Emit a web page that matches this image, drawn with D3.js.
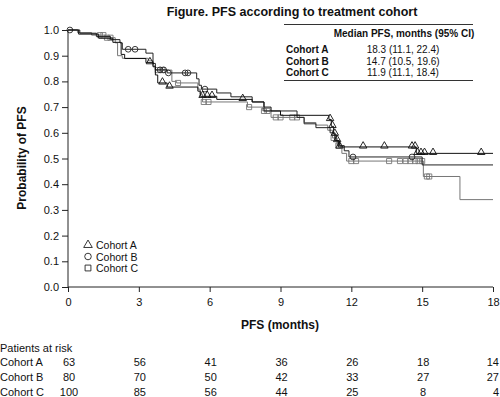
<!DOCTYPE html>
<html>
<head>
<meta charset="utf-8">
<script src="https://cdn.jsdelivr.net/npm/d3@7"></script>
<style>
  body { margin: 0; background: #fff; }
  text { font-family: "Liberation Sans", Arial, sans-serif; fill: #111; }
</style>
</head>
<body>
<div id="viz"></div>
<script>
'use strict';

const cohorts = ['Cohort A', 'Cohort B', 'Cohort C'];
const medianPFS = ['18.3 (11.1, 22.4)', '14.7 (10.5, 19.6)', '11.9 (11.1, 18.4)'];

// step points [month, survival]
const stepsA = [
  [0, 1], [0.45, 0.984], [1.3, 0.968], [1.9, 0.952], [2.25, 0.905], [2.4, 0.889],
  [3.3, 0.873], [3.6, 0.857], [3.7, 0.825], [3.8, 0.794], [4.2, 0.778],
  [5.5, 0.762], [5.6, 0.742], [6.3, 0.73], [7.8, 0.72], [8.3, 0.70],
  [8.6, 0.685], [9.0, 0.668], [11.05, 0.652], [11.15, 0.625], [11.25, 0.595],
  [11.35, 0.57], [11.45, 0.545], [14.75, 0.52]
];
const stepsB = [
  [0, 1], [0.5, 0.9875], [1.2, 0.975], [1.8, 0.9625], [2.2, 0.95], [2.3, 0.925],
  [3.3, 0.91], [3.6, 0.87], [3.7, 0.845], [4.2, 0.833], [5.45, 0.81],
  [5.55, 0.785], [5.65, 0.77], [6.3, 0.755], [6.9, 0.74], [7.8, 0.72],
  [8.3, 0.685], [9.7, 0.66], [10.0, 0.635], [10.5, 0.62], [11.1, 0.6],
  [11.3, 0.57], [11.5, 0.55], [11.7, 0.53], [11.9, 0.506], [15.0, 0.475]
];
const stepsC = [
  [0, 1], [0.4, 0.99], [1.0, 0.98], [1.6, 0.97], [2.0, 0.95], [2.1, 0.9],
  [2.3, 0.89], [3.4, 0.88], [3.6, 0.86], [3.7, 0.844], [4.4, 0.80],
  [4.6, 0.794], [5.5, 0.77], [5.6, 0.75], [5.7, 0.72], [7.6, 0.70],
  [8.25, 0.685], [8.6, 0.66], [10.0, 0.64], [10.5, 0.63], [11.0, 0.61],
  [11.2, 0.58], [11.4, 0.55], [11.6, 0.52], [11.8, 0.49], [15.05, 0.43],
  [16.6, 0.34]
];

// censoring marks (months)
const censorA = [3.47, 4.0, 4.3, 5.7, 5.9, 6.1, 7.4, 11.1, 11.2, 11.3, 11.4,
  11.5, 12.5, 13.4, 14.57, 14.7, 14.8, 14.95, 15.1, 15.46, 17.5];
const censorB = [0.08, 2.55, 2.84, 3.9, 4.05, 4.25, 4.96, 5.08, 5.8, 12.07, 14.57];
const censorC = [1.35, 1.5, 1.65, 1.8, 3.8, 4.0, 4.66, 5.75, 5.95, 7.67, 8.3,
  8.45, 8.8, 9.0, 9.5, 9.7, 11.25, 11.45, 12.0, 12.2, 13.6, 14.06, 14.3, 14.5,
  14.7, 14.85, 15.0, 15.2, 15.3];

const xTicks = [0, 3, 6, 9, 12, 15, 18];
const yTicks = [0, 0.1, 0.2, 0.3, 0.4, 0.5, 0.6, 0.7, 0.8, 0.9, 1.0];

const riskA = [63, 56, 41, 36, 26, 18, 14];
const riskB = [80, 70, 50, 42, 33, 27, 27];
const riskC = [100, 85, 56, 44, 25, 8, 4];

const series = [
  {name: cohorts[0], steps: stepsA, censor: censorA, risk: riskA, color: '#111', symbol: d3.symbolTriangle, size: 24},
  {name: cohorts[1], steps: stepsB, censor: censorB, risk: riskB, color: '#222', symbol: d3.symbolCircle, size: 26},
  {name: cohorts[2], steps: stepsC, censor: censorC, risk: riskC, color: '#777', symbol: d3.symbolSquare, size: 26}
];

const W = 500, H = 397;
const svg = d3.select('#viz').append('svg')
  .attr('width', W).attr('height', H);

const x = d3.scaleLinear().domain([0, 18]).range([68, 493]);
const y = d3.scaleLinear().domain([0, 1]).range([287, 30]);

// title
svg.append('text')
  .attr('x', 292).attr('y', 16)
  .attr('text-anchor', 'middle')
  .style('font-size', '12.5px').style('font-weight', 'bold')
  .text('Figure. PFS according to treatment cohort');

// axes
const yAxis = svg.append('g')
  .attr('transform', 'translate(68,0)')
  .call(d3.axisLeft(y).tickValues(yTicks).tickFormat(d3.format('.1f')).tickSize(6).tickPadding(3));
const xAxis = svg.append('g')
  .attr('transform', 'translate(0,287)')
  .call(d3.axisBottom(x).tickValues(xTicks).tickSize(5).tickPadding(6));
for (const g of [xAxis, yAxis]) {
  g.select('.domain').attr('stroke', '#222');
  g.selectAll('.tick line').attr('stroke', '#222');
  g.selectAll('.tick text').style('font-size', '11px').attr('fill', '#111');
}
xAxis.select('.domain').attr('d', 'M68,0H493');
yAxis.select('.domain').attr('d', 'M0,287V30');

svg.append('text')
  .attr('x', 280).attr('y', 329)
  .attr('text-anchor', 'middle')
  .style('font-size', '12px').style('font-weight', 'bold')
  .text('PFS (months)');

svg.append('text')
  .attr('transform', 'translate(26,158) rotate(-90)')
  .attr('text-anchor', 'middle')
  .style('font-size', '12px').style('font-weight', 'bold')
  .text('Probability of PFS');

// curves
function survAt(steps, t) {
  let s = steps[0][1];
  for (const [st, sv] of steps) {
    if (st <= t) s = sv;
  }
  return s;
}

const line = d3.line()
  .x(d => x(d[0]))
  .y(d => y(d[1]))
  .curve(d3.curveStepAfter);

for (const s of series.slice().reverse()) {
  const pts = s.steps.concat([[18, s.steps[s.steps.length - 1][1]]]);
  svg.append('path')
    .datum(pts)
    .attr('fill', 'none')
    .attr('stroke', s.color)
    .attr('stroke-width', 1)
    .attr('d', line);

  svg.append('g').selectAll('path')
    .data(s.censor)
    .join('path')
    .attr('transform', d => `translate(${x(d)},${y(survAt(s.steps, d)) - (s.symbol === d3.symbolTriangle ? 1 : 0)})`)
    .attr('d', d3.symbol(s.symbol, s.size))
    .attr('fill', 'none')
    .attr('stroke', s.color)
    .attr('stroke-width', 0.9);
}

// legend
const legend = svg.append('g');
series.forEach((s, i) => {
  const ly = 245 + i * 11.5;
  legend.append('path')
    .attr('transform', `translate(88,${ly})`)
    .attr('d', d3.symbol(s.symbol, s.size + 8))
    .attr('fill', 'none')
    .attr('stroke', '#222')
    .attr('stroke-width', 0.9);
  legend.append('text')
    .attr('x', 96).attr('y', ly + 4)
    .style('font-size', '10.5px')
    .text(s.name);
});

// median table
svg.append('line').attr('x1', 284).attr('x2', 473).attr('y1', 24.5).attr('y2', 24.5)
  .attr('stroke', '#333').attr('stroke-width', 1);
svg.append('line').attr('x1', 284).attr('x2', 473).attr('y1', 80.5).attr('y2', 80.5)
  .attr('stroke', '#333').attr('stroke-width', 1);
svg.append('text')
  .attr('x', 404).attr('y', 37)
  .attr('text-anchor', 'middle')
  .style('font-size', '10px').style('font-weight', 'bold')
  .text('Median PFS, months (95% CI)');
cohorts.forEach((c, i) => {
  const ry = 53 + i * 11.5;
  svg.append('text')
    .attr('x', 286).attr('y', ry)
    .style('font-size', '10px').style('font-weight', 'bold')
    .text(c);
  svg.append('text')
    .attr('x', 403).attr('y', ry)
    .attr('text-anchor', 'middle')
    .style('font-size', '10px')
    .text(medianPFS[i]);
});

// patients at risk
svg.append('text')
  .attr('x', 0).attr('y', 352)
  .style('font-size', '11px')
  .text('Patients at risk');
const lastTick = xTicks.length - 1;
series.forEach((s, i) => {
  const ry = 366 + i * 15;
  svg.append('text')
    .attr('x', 0).attr('y', ry)
    .style('font-size', '11px')
    .text(s.name);
  svg.append('g').selectAll('text')
    .data(s.risk)
    .join('text')
    .attr('x', (d, j) => j === lastTick ? 499 : x(xTicks[j]) + 1)
    .attr('y', ry)
    .attr('text-anchor', (d, j) => j === lastTick ? 'end' : 'middle')
    .style('font-size', '11px')
    .text(d => d);
});
</script>
</body>
</html>
